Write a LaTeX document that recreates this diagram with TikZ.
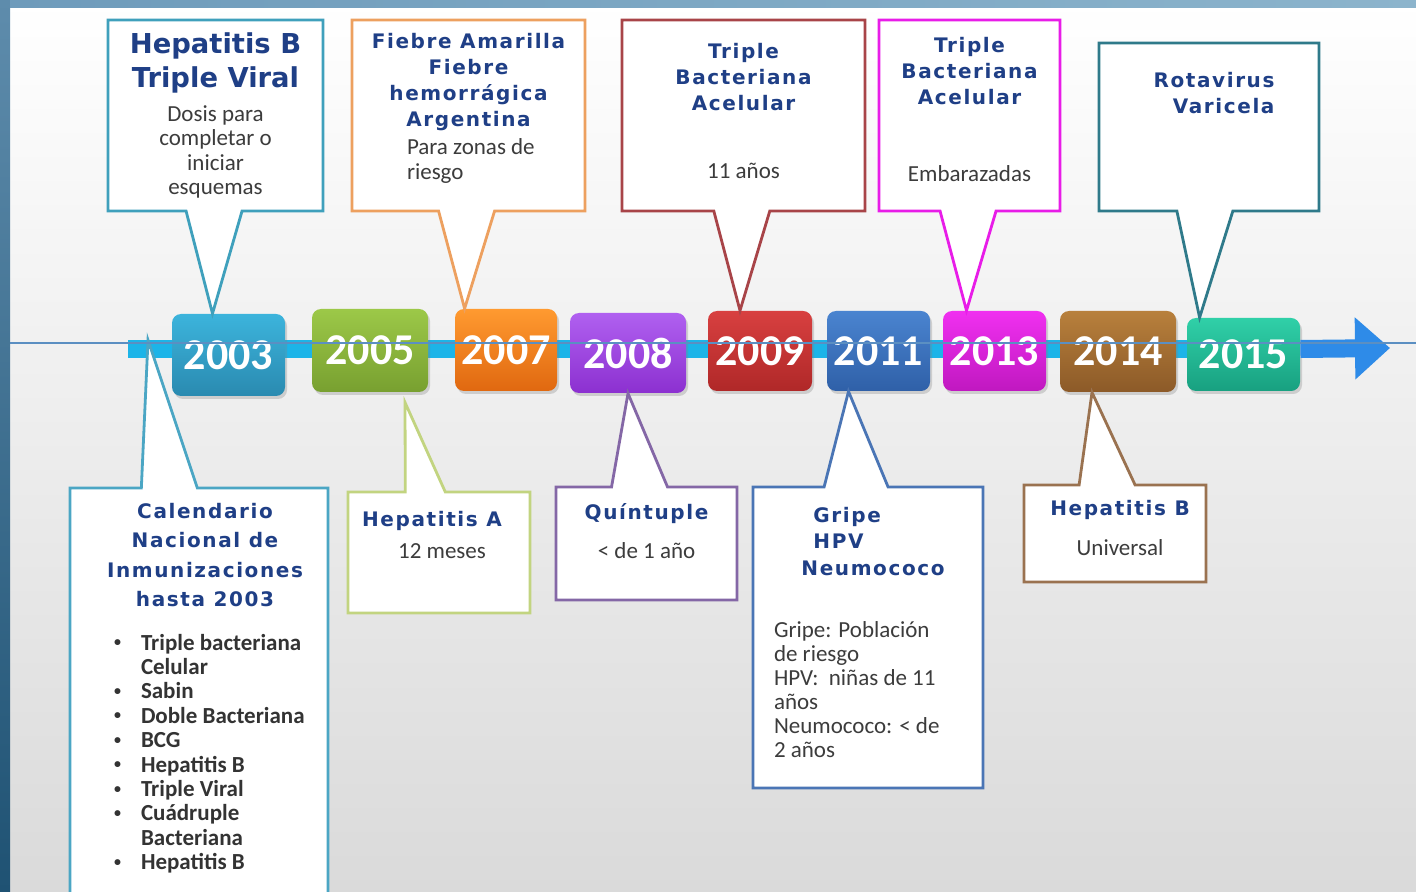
\documentclass[tikz,border=0pt]{standalone}
\usepackage{fontspec}
\setmainfont{Carlito}
\newfontfamily\titlefont[LetterSpace=8]{DejaVu Sans}
\newfontfamily\bigtitlefont{DejaVu Sans}
\usepackage{tikz}
\usetikzlibrary{shapes.callouts, shadows, positioning, arrows.meta}
\definecolor{TitleBlue}{HTML}{1F3F86}
\definecolor{NoteGrey}{HTML}{3C3C3C}
\definecolor{ListGrey}{HTML}{333333}
\definecolor{BackGrey}{HTML}{DADADA}
\definecolor{StripTop}{HTML}{5E8CAC}
\definecolor{StripBot}{HTML}{1F5273}
\definecolor{BandLeft}{HTML}{6E9BBB}
\definecolor{BandRight}{HTML}{8CB4CC}
\definecolor{BarCyan}{HTML}{1CB4E8}
\definecolor{ArrowBlue}{HTML}{2E8BE8}
\definecolor{GuideBlue}{HTML}{5B8FC2}
% callout borders
\definecolor{CallTeal}{HTML}{3FA0BC}
\definecolor{CallOrange}{HTML}{EDA05F}
\definecolor{CallRed}{HTML}{A84448}
\definecolor{CallMagenta}{HTML}{E81CE8}
\definecolor{CallDarkTeal}{HTML}{2F7A8A}
\definecolor{CallSky}{HTML}{4BA6C4}
\definecolor{CallLime}{HTML}{C2D480}
\definecolor{CallPurple}{HTML}{8467A6}
\definecolor{CallBlue}{HTML}{4A75B5}
\definecolor{CallBrown}{HTML}{9A7250}
% year boxes
\definecolor{TealTop}{HTML}{3CB4DC}   \definecolor{TealBot}{HTML}{2A8AB0}
\definecolor{GreenTop}{HTML}{9CC848}  \definecolor{GreenBot}{HTML}{78A030}
\definecolor{OrangeTop}{HTML}{FF9A30} \definecolor{OrangeBot}{HTML}{E06810}
\definecolor{VioletTop}{HTML}{B060F0} \definecolor{VioletBot}{HTML}{8C30D0}
\definecolor{RedTop}{HTML}{D84040}    \definecolor{RedBot}{HTML}{B02828}
\definecolor{BlueTop}{HTML}{4A84D0}   \definecolor{BlueBot}{HTML}{2F60A8}
\definecolor{PinkTop}{HTML}{F030F0}   \definecolor{PinkBot}{HTML}{C018C0}
\definecolor{BrownTop}{HTML}{B8803C}  \definecolor{BrownBot}{HTML}{8C5A28}
\definecolor{JadeTop}{HTML}{30D0A8}   \definecolor{JadeBot}{HTML}{18A080}
\newcommand{\dotmark}{\raisebox{0.3ex}{\fontsize{7}{7}\selectfont\textbullet}}

\begin{document}
\begin{tikzpicture}[x=0.5pt, y=-0.5pt, node distance=6pt]
    \tikzstyle{yearbox} = [rectangle, rounded corners=4.5pt, inner sep=0pt, text=white, font=\bfseries\fontsize{22}{24}\selectfont, drop shadow={opacity=0.3, shadow xshift=1pt, shadow yshift=-1.5pt}]
    \tikzstyle{callbox} = [rectangle callout, fill=white, line width=1.4pt, inner sep=0pt, callout pointer width=28pt]
    \tikzstyle{headtext} = [font=\titlefont\bfseries\fontsize{10}{13}\selectfont, text=TitleBlue, align=center, inner sep=0pt]
    \tikzstyle{notetext} = [font=\fontsize{11.5}{12.5}\selectfont, text=NoteGrey, align=center, inner sep=0pt]
    \tikzstyle{timebar} = [draw=BarCyan, line width=9pt]

    \useasboundingbox (0,0) rectangle (1416,892);
    % slide background
    \fill[top color=white, bottom color=BackGrey] (0,0) rectangle (1416,892);
    \fill[top color=StripTop, bottom color=StripBot] (0,0) rectangle (10,892);
    \fill[left color=BandLeft, right color=BandRight] (10,0) rectangle (1416,8);

    % timeline
    \coordinate (tstart) at (128,349);
    \coordinate (tend) at (1390,348);
    \coordinate (knot) at (148,340);
    \draw[timebar] (tstart) -- (tstart -| 1190,0);

    \node[yearbox, top color=TealTop, bottom color=TealBot, minimum width=56.5pt, minimum height=41pt] (y2003) at (228.5,355) {2003};
    \node[yearbox, top color=GreenTop, bottom color=GreenBot, minimum width=58pt, minimum height=41.5pt] (y2005) at (370,350.5) {2005};
    \node[yearbox, top color=OrangeTop, bottom color=OrangeBot, minimum width=51pt, minimum height=41pt] (y2007) at (506,350) {2007};
    \node[yearbox, top color=VioletTop, bottom color=VioletBot, minimum width=58pt, minimum height=40pt] (y2008) at (628,353) {2008};
    \node[yearbox, top color=RedTop, bottom color=RedBot, minimum width=52pt, minimum height=40pt] (y2009) at (760,351) {2009};
    \node[yearbox, top color=BlueTop, bottom color=BlueBot, minimum width=51.5pt, minimum height=40pt] (y2011) at (878.5,351) {2011};
    \node[yearbox, top color=PinkTop, bottom color=PinkBot, minimum width=51.5pt, minimum height=40pt] (y2013) at (994.5,351) {2013};
    \node[yearbox, top color=BrownTop, bottom color=BrownBot, minimum width=58pt, minimum height=40.5pt] (y2014) at (1118,351.5) {2014};
    \node[yearbox, top color=JadeTop, bottom color=JadeBot, minimum width=56.5pt, minimum height=36.5pt] (y2015) at (1243.5,354.5) {2015};

    \draw[draw=ArrowBlue, line width=9pt, -{Triangle[length=17.5pt, width=30pt]}] (y2015.east |- tstart) -- (tend);

    % callouts above the line
    \node[callbox, draw=CallTeal, minimum width=107.5pt, minimum height=95.5pt, callout absolute pointer={([xshift=-8pt]y2003.north)}] (cA) at (215.5,115.5) {};
    \node[headtext, font=\bigtitlefont\bfseries\fontsize{13.7}{17}\selectfont, below=7pt of cA.north] (cAhead) {Hepatitis B\\Triple Viral};
    \node[notetext, font=\fontsize{11.5}{12.25}\selectfont, below=5.5pt of cAhead] (cAnote) {Dosis para\\completar o\\iniciar\\esquemas};

    \node[callbox, draw=CallOrange, minimum width=116.5pt, minimum height=95.5pt, callout absolute pointer={([xshift=5pt]y2007.north west)}] (cB) at (468.5,115.5) {};
    \node[headtext, below=7pt of cB.north] (cBhead) {Fiebre Amarilla\\Fiebre\\hemorrágica\\Argentina};
    \node[notetext, align=left, below right=60pt and 28pt of cB.north west] (cBnote) {Para zonas de\\riesgo};

    \node[callbox, draw=CallRed, minimum width=121.5pt, minimum height=95.5pt, callout absolute pointer={([xshift=-10pt]y2009.north)}] (cC) at (743.5,115.5) {};
    \node[headtext, below=12pt of cC.north] (cChead) {Triple\\Bacteriana\\Acelular};
    \node[notetext, below=26pt of cChead] (cCnote) {11 años};

    \node[callbox, draw=CallMagenta, minimum width=90.5pt, minimum height=95.5pt, callout absolute pointer={([xshift=-14pt]y2013.north)}] (cD) at (969.5,115.5) {};
    \node[headtext, below=9pt of cD.north] (cDhead) {Triple\\Bacteriana\\Acelular};
    \node[notetext, below=30pt of cDhead] (cDnote) {Embarazadas};

    \node[callbox, draw=CallDarkTeal, minimum width=110pt, minimum height=84pt, callout absolute pointer={([xshift=6.5pt]y2015.north west)}] (cE) at (1209,127) {};
    \node[headtext, align=right, below=15pt of cE.north, xshift=2.5pt] (cEhead) {Rotavirus\\Varicela};

    % callouts below the line
    \node[callbox, draw=CallSky, minimum width=129pt, minimum height=206pt, callout absolute pointer={(knot)}] (cF) at (199,694) {};
    \node[headtext, font=\titlefont\bfseries\fontsize{10}{14.75}\selectfont, below=8pt of cF.north, xshift=3pt] (cFhead) {Calendario\\Nacional de\\Inmunizaciones\\hasta 2003};
    \node[notetext, align=left, text=ListGrey, font=\bfseries\fontsize{11.5}{12.2}\selectfont, below right=73pt and 22.5pt of cF.north west] (cFlist) {%
      \begin{tabular}{@{}p{13.5pt}@{}l@{}}
        \dotmark & Triple bacteriana\\
                 & Celular\\
        \dotmark & Sabin\\
        \dotmark & Doble Bacteriana\\
        \dotmark & BCG\\
        \dotmark & Hepatitis B\\
        \dotmark & Triple Viral\\
        \dotmark & Cuádruple\\
                 & Bacteriana\\
        \dotmark & Hepatitis B
      \end{tabular}};

    \node[callbox, draw=CallLime, minimum width=91pt, minimum height=60.5pt, callout pointer width=20pt, callout absolute pointer={([xshift=17.5pt, yshift=-5pt]y2005.south)}] (cG) at (439,552.5) {};
    \node[headtext, below=10pt of cG.north, xshift=-3.5pt] (cGhead) {Hepatitis A};
    \node[notetext, below=6pt of cGhead, xshift=5pt] (cGnote) {12 meses};

    \node[callbox, draw=CallPurple, minimum width=90.5pt, minimum height=56.5pt, callout absolute pointer={(y2008.south)}] (cH) at (646.5,543.5) {};
    \node[headtext, below=9pt of cH.north] (cHhead) {Quíntuple};
    \node[notetext, below=9pt of cHhead] (cHnote) {< de 1 año};

    \node[callbox, draw=CallBlue, minimum width=115pt, minimum height=150.5pt, callout pointer width=32pt, callout absolute pointer={([xshift=-15pt]y2011.south)}] (cI) at (868,637.5) {};
    \node[headtext, align=left, font=\titlefont\bfseries\fontsize{10}{13.25}\selectfont, below=10.5pt of cI.north, xshift=2.5pt] (cIhead) {\hspace*{6pt}Gripe\\\hspace*{6pt}HPV\\Neumococo};
    \node[notetext, align=left, font=\fontsize{11.5}{12}\selectfont, below right=68pt and 11pt of cI.north west] (cInote) {Gripe: Población\\de riesgo\\HPV:\ \ niñas de 11\\años\\Neumococo: < de\\2 años};

    \node[callbox, draw=CallBrown, minimum width=91pt, minimum height=48.5pt, callout absolute pointer={([xshift=-13pt]y2014.south)}] (cJ) at (1115,533.5) {};
    \node[headtext, below=8pt of cJ.north, xshift=2.5pt] (cJhead) {Hepatitis B};
    \node[notetext, below=9.5pt of cJhead] (cJnote) {Universal};

    % thin guide line across the slide
    \coordinate (guideL) at (10,343);
    \coordinate (guideR) at (1416,343);
    \draw[GuideBlue, line width=0.6pt] (guideL) -- (guideR);
\end{tikzpicture}
\end{document}
